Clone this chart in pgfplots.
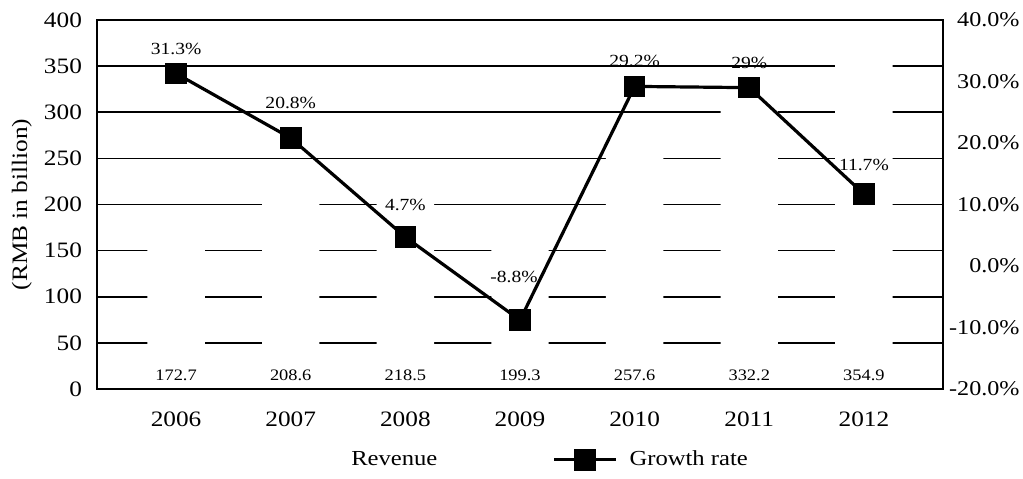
\documentclass[border=0pt]{standalone}
\usepackage{fontspec}
\setmainfont{Liberation Serif}[FakeStretch=1.15]
\usepackage{pgfplots}
\pgfplotsset{compat=1.18}
\begin{document}
\begin{tikzpicture}
\begin{axis}[
  scale only axis, width=423pt, height=184.5pt,
  xmin=-0.69, xmax=6.69, ymin=0, ymax=400,
  xtick={0,...,6}, xticklabels={2006,2007,2008,2009,2010,2011,2012},
  ytick={0,50,...,400}, yticklabels={0,50,100,150,200,250,300,350,400},
  major tick length=0pt,
  ymajorgrids, grid style={black, line width=0.8pt},
  axis line style={line width=1pt},
  tick label style={font=\fontsize{11}{12}\selectfont},
  xticklabel style={yshift=-8pt},
  yticklabel style={xshift=-4pt},
  every axis y label/.style={at={(rel axis cs:-0.0887,0.5)}, rotate=90, anchor=center, font=\fontsize{11}{12}\selectfont},
  ylabel={(RMB in billion)},
]
\addplot[ybar, bar width=0.5, fill=white, draw=none] coordinates {(0,172.7) (1,208.6) (2,218.5) (3,199.3) (4,257.6) (5,332.2) (6,354.9)};
\addplot[draw=none, mark=none, nodes near coords, point meta=explicit symbolic,
  every node near coord/.append style={anchor=center, font=\fontsize{8}{9}\selectfont}]
  coordinates {(0,15)[172.7] (1,15)[208.6] (2,15)[218.5] (3,15)[199.3] (4,15)[257.6] (5,15)[332.2] (6,15)[354.9]};
\end{axis}
\begin{axis}[
  scale only axis, width=423pt, height=184.5pt,
  xmin=-0.69, xmax=6.69, ymin=-20, ymax=40,
  xtick=\empty,
  ytick={-20,-10,...,40}, yticklabels={-20.0\%,-10.0\%,0.0\%,10.0\%,20.0\%,30.0\%,40.0\%},
  yticklabel pos=right,
  major tick length=0pt,
  axis line style={line width=1pt},
  tick label style={font=\fontsize{10.5}{12}\selectfont},
  yticklabel style={anchor=east, inner xsep=0pt, xshift=38.5pt},
  legend columns=2,
  legend style={draw=none, fill=none, at={(rel axis cs:0.247,-0.192)}, anchor=west,
    font=\fontsize{10.7}{12}\selectfont,
    /tikz/every even column/.append style={column sep=55.5pt}},
  legend image code/.code={\draw[mark repeat=2,mark phase=2,#1] plot coordinates {(0pt,0pt) (15.5pt,0pt) (31pt,0pt)}; \path (35pt,0pt);},
]
\addlegendimage{white, draw=white, fill=white, area legend}
\addlegendentry{Revenue}
\addplot[black, line width=1.6pt, mark=square*, mark size=4.6pt,
  nodes near coords, point meta=explicit symbolic,
  every node near coord/.append style={anchor=center, yshift=12.5pt, font=\fontsize{8.5}{9}\selectfont},
  coordinate style/.condition={\coordindex==1}{yshift=5pt},
  coordinate style/.condition={\coordindex==2}{yshift=3.5pt},
  coordinate style/.condition={\coordindex==3}{yshift=9pt, xshift=-3pt},
  coordinate style/.condition={\coordindex==6}{yshift=2pt},
  ]
  coordinates {(0,31.3)[31.3\%] (1,20.8)[20.8\%] (2,4.7)[4.7\%] (3,-8.8)[-8.8\%] (4,29.2)[29.2\%] (5,29)[29\%] (6,11.7)[11.7\%]};
\addlegendentry{Growth rate}
\end{axis}
\pgfresetboundingbox
\path[use as bounding box] ([xshift=-48.5pt,yshift=-45pt]current axis.south west) rectangle ([xshift=40pt,yshift=10pt]current axis.north east);
\end{tikzpicture}
\end{document}
